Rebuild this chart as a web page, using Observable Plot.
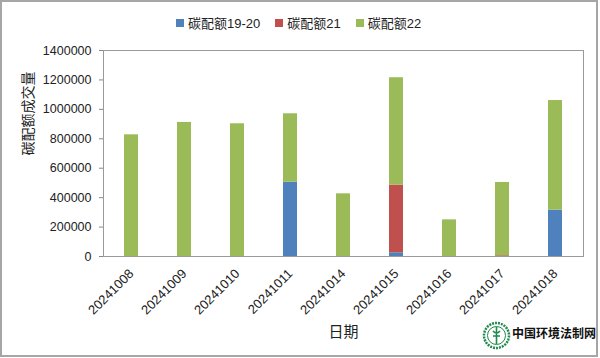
<!DOCTYPE html>
<html><head><meta charset="utf-8">
<script src="https://cdn.jsdelivr.net/npm/d3@7"></script>
<script src="https://cdn.jsdelivr.net/npm/@observablehq/plot@0.6"></script>
<style>
html,body{margin:0;padding:0;background:#fff;}
#wrap{position:relative;width:600px;height:358px;font-family:"Liberation Sans","Noto Sans CJK SC",sans-serif;}
#border{position:absolute;left:0;top:0;width:594px;height:353px;border:2px solid #a6a6a6;pointer-events:none;}
#legend{position:absolute;top:13px;left:176px;font-size:13px;color:#222;display:flex;align-items:center;white-space:nowrap;}
#legend span.sw{display:inline-block;width:8px;height:8px;margin-right:4px;}
#legend span.it{display:inline-flex;align-items:center;margin-right:15px;}
#wm{position:absolute;left:482px;top:321px;display:flex;align-items:center;}
#wm .t{font-family:"Noto Sans CJK SC",sans-serif;font-weight:bold;font-size:12px;color:#111;margin-left:1px;letter-spacing:0px;margin-top:-6px;}
</style></head>
<body><div id="wrap"><div id="chart"></div><div id="legend"></div>
<div id="wm"><svg width="29" height="29" viewBox="0 0 29 29"><circle cx="14.5" cy="14.5" r="12.5" fill="none" stroke="#1f8a4c" stroke-width="2.5" stroke-dasharray="2 1"/><circle cx="14.5" cy="14.5" r="9" fill="#fff" stroke="#1f8a4c" stroke-width="1"/><path d="M14.5 6 L14.5 23 M11 10 Q14.5 14 18 10 M11 15 L18 15" stroke="#1f8a4c" stroke-width="1.6" fill="none"/></svg><span class="t">中国环境法制网</span></div>
<div id="border"></div></div>
<script>
const dates = ["20241008","20241009","20241010","20241011","20241014","20241015","20241016","20241017","20241018"];
const seriesNames = ["碳配额19-20","碳配额21","碳配额22"];
const colors = ["#4F81BD","#C0504D","#9BBB59"];
const s1920 = [0,0,0,505000,0,25000,0,0,315000];
const s21 = [0,0,0,0,0,460000,0,5000,0];
const s22 = [827000,911000,902000,465000,426000,730000,249000,498000,745000];
const yTicks = [0,200000,400000,600000,800000,1000000,1200000,1400000];

const seriesVals = [s1920, s21, s22];
const data = [];
seriesNames.forEach((s, i) => dates.forEach((d, j) => data.push({date: d, series: s, value: seriesVals[i][j]})));

const chart = Plot.plot({
  width: 600, height: 358,
  marginTop: 50, marginLeft: 103, marginRight: 17, marginBottom: 102,
  style: {fontFamily: '"Liberation Sans","Noto Sans CJK SC",sans-serif', fontSize: "12px", color: "#222", background: "transparent"},
  x: {domain: dates, paddingInner: 0.74, paddingOuter: 0.37, align: 0.5},
  y: {domain: [0, 1400000]},
  color: {domain: seriesNames, range: colors},
  marks: [
    Plot.barY(data, {x: "date", y: "value", fill: "series", order: seriesNames}),
    Plot.frame({stroke: "#9a9a9a"}),
    Plot.axisY({ticks: yTicks, tickFormat: d3.format("d"), tickSize: 4, tickPadding: 8, stroke: "#888", label: null, fontSize: 12.5}),
    Plot.axisX({tickRotate: -45, tickSize: 0, tickPadding: 15, label: null, fontSize: 13}),
    Plot.text(["碳配额成交量"], {frameAnchor: "left", dx: -75, dy: 2, rotate: -90, fontSize: 14, fontFamily: '"Noto Sans CJK SC",sans-serif', fill: "#222"}),
    Plot.text(["日期"], {frameAnchor: "bottom", dy: 80, fontSize: 15, fontFamily: '"Noto Sans CJK SC",sans-serif', fill: "#222"})
  ]
});
document.getElementById("chart").appendChild(chart);

const lg = document.getElementById("legend");
seriesNames.forEach((s, i) => {
  const it = document.createElement("span"); it.className = "it";
  const sw = document.createElement("span"); sw.className = "sw"; sw.style.background = colors[i];
  it.appendChild(sw); it.appendChild(document.createTextNode(s));
  lg.appendChild(it);
});
</script></body></html>
